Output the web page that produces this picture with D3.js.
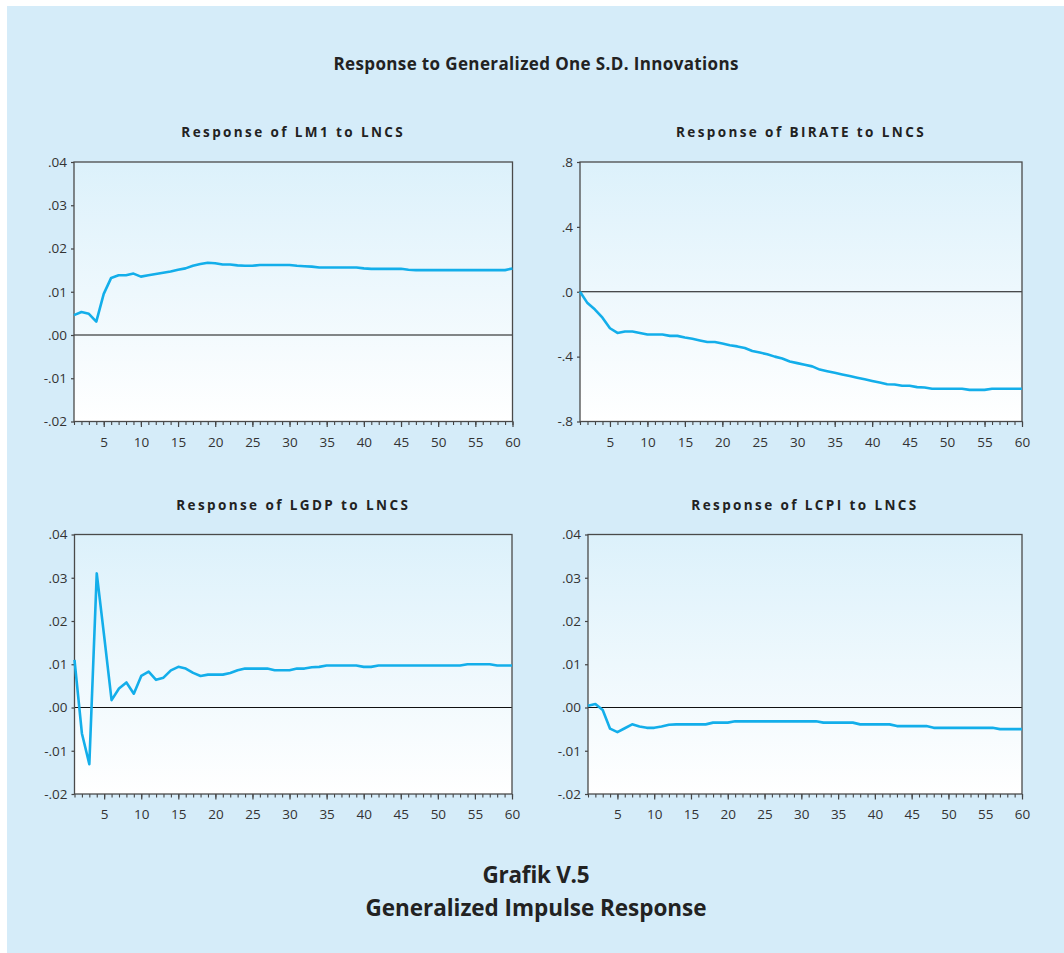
<!DOCTYPE html>
<html>
<head>
<meta charset="utf-8">
<script src="https://cdn.jsdelivr.net/npm/d3@7"></script>
<style>
  html, body { margin: 0; padding: 0; background: #ffffff; }
  svg { display: block; }
</style>
</head>
<body>
<svg id="chart" width="1064" height="953"></svg>
<script>
// ---------------- DATA ----------------
const periods = d3.range(1, 61);

const lm1 = [0.0046,0.0053,0.0049,0.0031,0.0095,0.0132,0.0138,0.0138,0.0142,0.0135,
             0.0138,0.0141,0.0144,0.0147,0.0151,0.0154,0.0160,0.0164,0.0167,0.0166,
             0.0163,0.0163,0.0161,0.0160,0.0160,0.0162,0.0162,0.0162,0.0162,0.0162,
             0.0160,0.0159,0.0158,0.0156,0.0156,0.0156,0.0156,0.0156,0.0156,0.0154,
             0.0153,0.0153,0.0153,0.0153,0.0153,0.0151,0.0150,0.0150,0.0150,0.0150,
             0.0150,0.0150,0.0150,0.0150,0.0150,0.0150,0.0150,0.0150,0.0150,0.0154];

const birate = [0.000,-0.070,-0.110,-0.160,-0.225,-0.254,-0.245,-0.245,-0.254,-0.264,
                -0.264,-0.264,-0.272,-0.272,-0.282,-0.290,-0.300,-0.310,-0.310,-0.319,
                -0.330,-0.337,-0.347,-0.365,-0.375,-0.385,-0.400,-0.412,-0.430,-0.440,
                -0.450,-0.460,-0.480,-0.490,-0.500,-0.510,-0.520,-0.530,-0.540,-0.550,
                -0.560,-0.570,-0.572,-0.580,-0.580,-0.588,-0.590,-0.598,-0.598,-0.598,
                -0.598,-0.598,-0.605,-0.605,-0.605,-0.598,-0.598,-0.598,-0.598,-0.598];

const lgdp = [0.0110,-0.0060,-0.0131,0.0310,0.0165,0.0017,0.0044,0.0058,0.0032,0.0073,
              0.0083,0.0064,0.0069,0.0086,0.0094,0.0090,0.0080,0.0073,0.0076,0.0076,
              0.0076,0.0080,0.0086,0.0090,0.0090,0.0090,0.0090,0.0086,0.0086,0.0086,
              0.0090,0.0090,0.0093,0.0094,0.0097,0.0097,0.0097,0.0097,0.0097,0.0094,
              0.0094,0.0097,0.0097,0.0097,0.0097,0.0097,0.0097,0.0097,0.0097,0.0097,
              0.0097,0.0097,0.0097,0.0100,0.0100,0.0100,0.0100,0.0097,0.0097,0.0097];

const lcpi = [0.0004,0.0008,-0.0006,-0.0049,-0.0057,-0.0048,-0.0039,-0.0044,-0.0047,-0.0047,
              -0.0044,-0.0040,-0.0039,-0.0039,-0.0039,-0.0039,-0.0039,-0.0035,-0.0035,-0.0035,
              -0.0032,-0.0032,-0.0032,-0.0032,-0.0032,-0.0032,-0.0032,-0.0032,-0.0032,-0.0032,
              -0.0032,-0.0032,-0.0035,-0.0035,-0.0035,-0.0035,-0.0035,-0.0039,-0.0039,-0.0039,
              -0.0039,-0.0039,-0.0043,-0.0043,-0.0043,-0.0043,-0.0043,-0.0047,-0.0047,-0.0047,
              -0.0047,-0.0047,-0.0047,-0.0047,-0.0047,-0.0047,-0.0050,-0.0050,-0.0050,-0.0050];

const smallTicks = [-0.02, -0.01, 0.00, 0.01, 0.02, 0.03, 0.04];
const smallTickLabels = ["-.02", "-.01", ".00", ".01", ".02", ".03", ".04"];
const birateTicks = [-0.8, -0.4, 0.0, 0.4, 0.8];
const birateTickLabels = ["-.8", "-.4", ".0", ".4", ".8"];
const xMajorTicks = [5, 10, 15, 20, 25, 30, 35, 40, 45, 50, 55, 60];

const mainTitle = "Response to Generalized One S.D. Innovations";
const panelTitles = ["Response of LM1 to LNCS", "Response of BIRATE to LNCS",
                     "Response of LGDP to LNCS", "Response of LCPI to LNCS"];
const captionLines = ["Grafik V.5", "Generalized Impulse Response"];

// ---------------- LAYOUT ----------------
const panels = [
  { title: panelTitles[0], values: lm1,    ticks: smallTicks,  labels: smallTickLabels,  dom: [-0.02, 0.04], box: { l: 74,   r: 512.5, t: 162,   b: 421.5 } },
  { title: panelTitles[1], values: birate, ticks: birateTicks, labels: birateTickLabels, dom: [-0.8, 0.8],   box: { l: 580,  r: 1022,  t: 162,   b: 421.5 } },
  { title: panelTitles[2], values: lgdp,   ticks: smallTicks,  labels: smallTickLabels,  dom: [-0.02, 0.04], box: { l: 74.5, r: 512,   t: 534.5, b: 794 } },
  { title: panelTitles[3], values: lcpi,   ticks: smallTicks,  labels: smallTickLabels,  dom: [-0.02, 0.04], box: { l: 588,  r: 1022,  t: 534.5, b: 794 } }
];

const FONT = "'Open Sans', 'Noto Sans', 'DejaVu Sans', sans-serif";
const svg = d3.select("#chart");

// page background
svg.append("rect").attr("x", 7).attr("y", 6).attr("width", 1057).attr("height", 947).attr("fill", "#d5ecf9");

const defs = svg.append("defs");
const grad = defs.append("linearGradient").attr("id", "plotGrad").attr("x1", 0).attr("y1", 0).attr("x2", 0).attr("y2", 1);
grad.append("stop").attr("offset", "0%").attr("stop-color", "#dcf1fb");
grad.append("stop").attr("offset", "100%").attr("stop-color", "#ffffff");

svg.append("text")
  .attr("x", 536).attr("y", 70)
  .attr("text-anchor", "middle")
  .attr("font-family", FONT).attr("font-weight", "bold").attr("font-size", 17)
  .attr("textLength", 405).attr("lengthAdjust", "spacing")
  .attr("fill", "#222")
  .text(mainTitle);

panels.forEach(p => {
  const b = p.box;
  const x = d3.scaleLinear().domain([1, 60]).range([b.l, b.r]);
  const y = d3.scaleLinear().domain(p.dom).range([b.b, b.t]);
  const g = svg.append("g");

  // plot background
  g.append("rect").attr("x", b.l).attr("y", b.t).attr("width", b.r - b.l).attr("height", b.b - b.t)
    .attr("fill", "url(#plotGrad)");

  // title
  g.append("text")
    .attr("x", (b.l + b.r) / 2).attr("y", b.t - 25)
    .attr("text-anchor", "middle")
    .attr("font-family", FONT).attr("font-weight", "bold").attr("font-size", 13.5)
    .attr("letter-spacing", "2.4px")
    .attr("fill", "#222")
    .text(p.title);

  // zero line
  g.append("line").attr("x1", b.l).attr("x2", b.r).attr("y1", y(0)).attr("y2", y(0))
    .attr("stroke", "#111").attr("stroke-width", 1);

  // y axis
  const yAxis = d3.axisLeft(y).tickValues(p.ticks)
    .tickFormat((d, i) => p.labels[i]).tickSize(3).tickPadding(4);
  const ya = g.append("g").attr("transform", `translate(${b.l},0)`).call(yAxis);
  ya.select(".domain").remove();
  ya.selectAll("line").attr("stroke", "#444").attr("stroke-width", 1.2);
  ya.selectAll("text").attr("font-family", FONT).attr("font-size", 13.5).attr("fill", "#333");

  // x axis: minor ticks every period
  const xMinor = d3.axisBottom(x).tickValues(periods).tickFormat("").tickSize(3.5);
  const xm = g.append("g").attr("transform", `translate(0,${b.b})`).call(xMinor);
  xm.select(".domain").remove();
  xm.selectAll("line").attr("stroke", "#444").attr("stroke-width", 1.1);

  const xMajor = d3.axisBottom(x).tickValues(xMajorTicks).tickFormat(d3.format("d")).tickSize(5.5).tickPadding(10);
  const xa = g.append("g").attr("transform", `translate(0,${b.b})`).call(xMajor);
  xa.select(".domain").remove();
  xa.selectAll("line").attr("stroke", "#444").attr("stroke-width", 1.2);
  xa.selectAll("text").attr("font-family", FONT).attr("font-size", 13.5).attr("fill", "#333");

  // frame
  g.append("rect").attr("x", b.l).attr("y", b.t).attr("width", b.r - b.l).attr("height", b.b - b.t)
    .attr("fill", "none").attr("stroke", "#4a4a4a").attr("stroke-width", 1.3);

  // series line
  const line = d3.line().x((d, i) => x(periods[i])).y(d => y(d));
  g.append("path").datum(p.values)
    .attr("d", line)
    .attr("fill", "none").attr("stroke", "#13aeea").attr("stroke-width", 2.6)
    .attr("stroke-linejoin", "round");
});

svg.append("text")
  .attr("x", 536).attr("y", 883)
  .attr("text-anchor", "middle")
  .attr("font-family", FONT).attr("font-weight", "bold").attr("font-size", 22.5)
  .attr("textLength", 107).attr("lengthAdjust", "spacing")
  .attr("fill", "#222")
  .text(captionLines[0]);
svg.append("text")
  .attr("x", 536).attr("y", 916)
  .attr("text-anchor", "middle")
  .attr("font-family", FONT).attr("font-weight", "bold").attr("font-size", 22.5)
  .attr("textLength", 341).attr("lengthAdjust", "spacing")
  .attr("fill", "#222")
  .text(captionLines[1]);
</script>
</body>
</html>
